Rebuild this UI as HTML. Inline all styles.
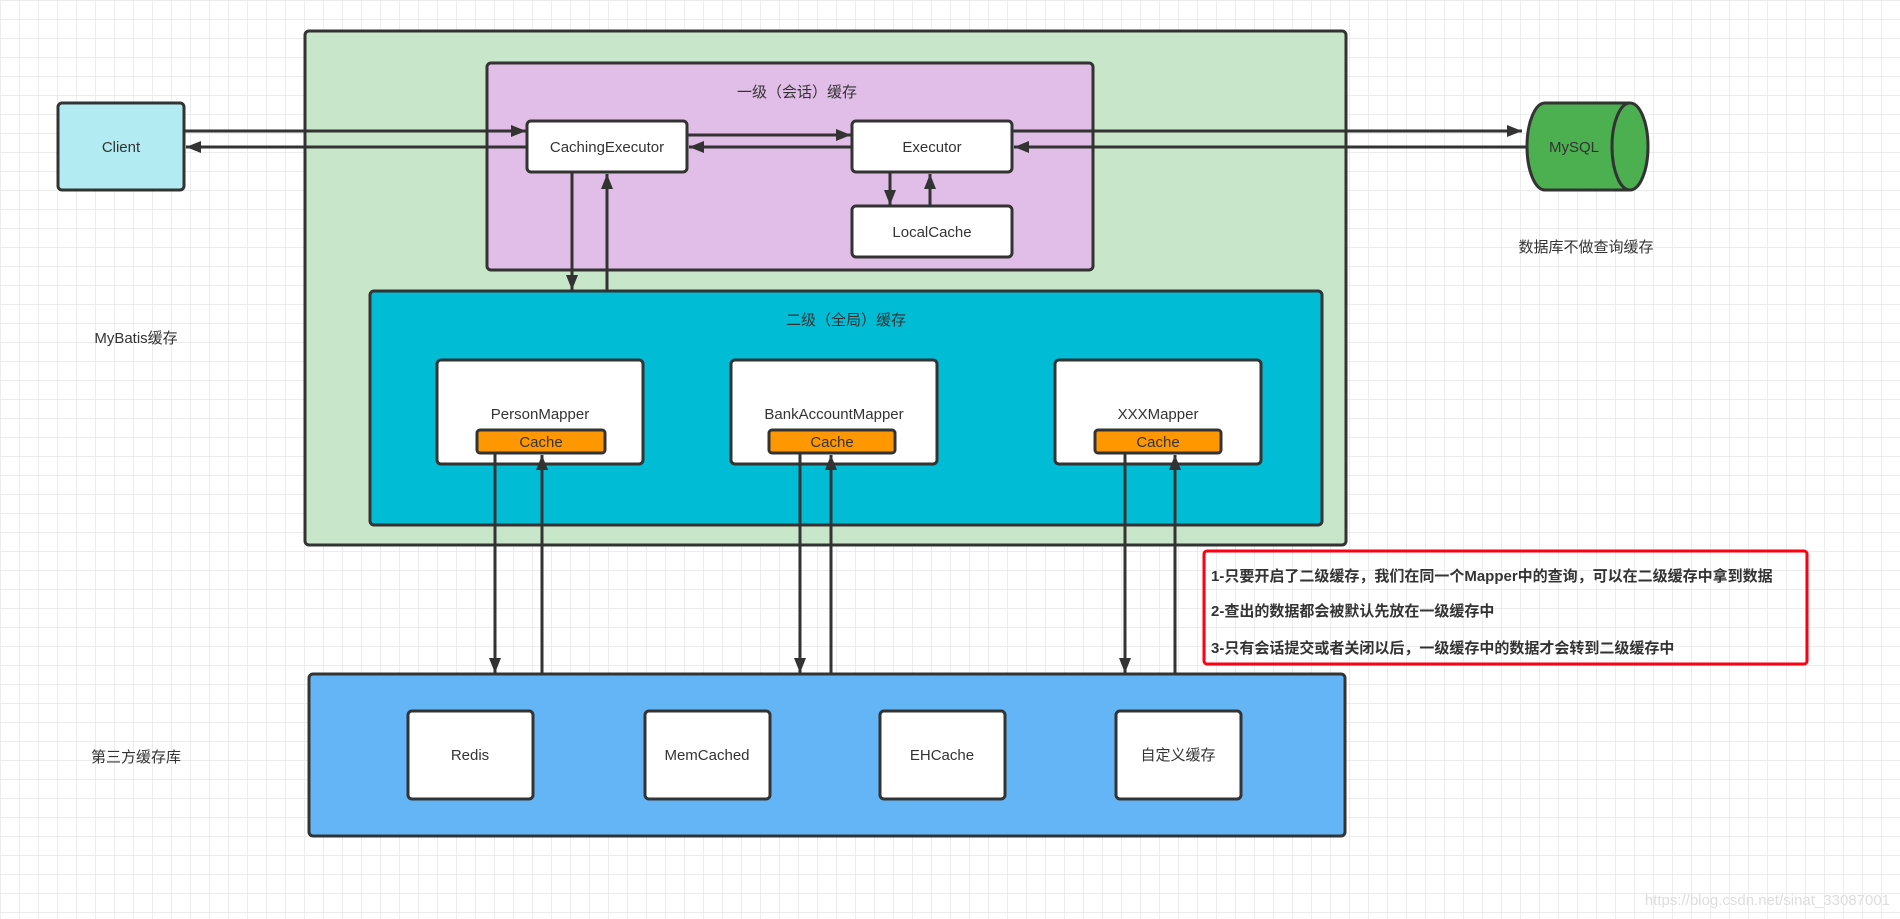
<!DOCTYPE html>
<html><head><meta charset="utf-8"><style>
html,body{margin:0;padding:0;}
body{width:1900px;height:919px;overflow:hidden;background:#fff;
background-image:linear-gradient(#ececec 1px,transparent 1px),linear-gradient(90deg,#ececec 1px,transparent 1px);
background-size:19px 19px;}
svg{position:absolute;left:0;top:0;}
text{font-family:"Liberation Sans","Noto Sans CJK SC",sans-serif;fill:#333;font-size:15px;}
</style></head><body>
<svg width="1900" height="919" xmlns="http://www.w3.org/2000/svg">
<defs><marker id="a" markerWidth="15" markerHeight="12" refX="15" refY="6" orient="auto" markerUnits="userSpaceOnUse"><path d="M0,0 L15,6 L0,12 z" fill="#333"/></marker></defs>
<g stroke="#333" stroke-width="3">
<rect x="305" y="31" width="1041" height="514" rx="4" fill="#c8e6c9"/>
<rect x="487" y="63" width="606" height="207" rx="4" fill="#e1bee7"/>
<rect x="58" y="103" width="126" height="87" rx="4" fill="#b2ebf2"/>
<rect x="527" y="121" width="160" height="51" rx="4" fill="#fff"/>
<rect x="852" y="121" width="160" height="51" rx="4" fill="#fff"/>
<rect x="852" y="206" width="160" height="51" rx="4" fill="#fff"/>
<rect x="370" y="291" width="952" height="234" rx="4" fill="#00bcd4"/>
<rect x="437" y="360" width="206" height="104" rx="4" fill="#fff"/>
<rect x="731" y="360" width="206" height="104" rx="4" fill="#fff"/>
<rect x="1055" y="360" width="206" height="104" rx="4" fill="#fff"/>
<rect x="477" y="430" width="128" height="23" rx="3" fill="#ff9800"/>
<rect x="769" y="430" width="126" height="23" rx="3" fill="#ff9800"/>
<rect x="1095" y="430" width="126" height="23" rx="3" fill="#ff9800"/>
<rect x="309" y="674" width="1036" height="162" rx="4" fill="#64b5f6"/>
<rect x="408" y="711" width="125" height="88" rx="4" fill="#fff"/>
<rect x="645" y="711" width="125" height="88" rx="4" fill="#fff"/>
<rect x="880" y="711" width="125" height="88" rx="4" fill="#fff"/>
<rect x="1116" y="711" width="125" height="88" rx="4" fill="#fff"/>
<path d="M1545,103 L1630,103 A18,43.5 0 0 1 1630,190 L1545,190 A18,43.5 0 0 1 1545,103 z" fill="#4caf50"/>
<path d="M1630,103 A18,43.5 0 0 0 1630,190" fill="none"/>
</g>
<rect x="1204" y="551" width="603" height="113" rx="3" fill="none" stroke="#f01" stroke-width="3"/>
<g stroke="#333" stroke-width="3" fill="none" marker-end="url(#a)">
<line x1="184" y1="131" x2="526" y2="131"/>
<line x1="527" y1="147" x2="186" y2="147"/>
<line x1="687" y1="135" x2="851" y2="135"/>
<line x1="852" y1="147" x2="689" y2="147"/>
<line x1="1012" y1="131" x2="1522" y2="131"/>
<line x1="1527" y1="147" x2="1014" y2="147"/>
<line x1="890" y1="172" x2="890" y2="205"/>
<line x1="930" y1="206" x2="930" y2="174"/>
<line x1="572" y1="172" x2="572" y2="290"/>
<line x1="607" y1="291" x2="607" y2="174"/>
<line x1="495" y1="453" x2="495" y2="673"/>
<line x1="542" y1="674" x2="542" y2="455"/>
<line x1="800" y1="453" x2="800" y2="673"/>
<line x1="831" y1="674" x2="831" y2="455"/>
<line x1="1125" y1="453" x2="1125" y2="673"/>
<line x1="1175" y1="674" x2="1175" y2="455"/>
</g>
<g text-anchor="middle">
<text x="121" y="152">Client</text>
<text x="607" y="152">CachingExecutor</text>
<text x="932" y="152">Executor</text>
<text x="932" y="237">LocalCache</text>
<text x="797" y="97" font-size="14">一级（会话）缓存</text>
<text x="846" y="325" font-size="14">二级（全局）缓存</text>
<text x="540" y="419">PersonMapper</text>
<text x="834" y="419">BankAccountMapper</text>
<text x="1158" y="419">XXXMapper</text>
<text x="541" y="447" font-size="14">Cache</text>
<text x="832" y="447" font-size="14">Cache</text>
<text x="1158" y="447" font-size="14">Cache</text>
<text x="470" y="760">Redis</text>
<text x="707" y="760">MemCached</text>
<text x="942" y="760">EHCache</text>
<text x="1178" y="760" font-size="14">自定义缓存</text>
<text x="1574" y="152">MySQL</text>
<text x="1586" y="252" font-size="14">数据库不做查询缓存</text>
<text x="136" y="343" font-size="14">MyBatis缓存</text>
<text x="136" y="762" font-size="14">第三方缓存库</text>
</g>
<g font-weight="bold" font-size="14">
<text x="1211" y="581">1-只要开启了二级缓存，我们在同一个Mapper中的查询，可以在二级缓存中拿到数据</text>
<text x="1211" y="616">2-查出的数据都会被默认先放在一级缓存中</text>
<text x="1211" y="653">3-只有会话提交或者关闭以后，一级缓存中的数据才会转到二级缓存中</text>
</g>
<text x="1890" y="905" text-anchor="end" font-size="15" style="fill:#ddd">https://blog.csdn.net/sinat_33087001</text>
</svg>
</body></html>
